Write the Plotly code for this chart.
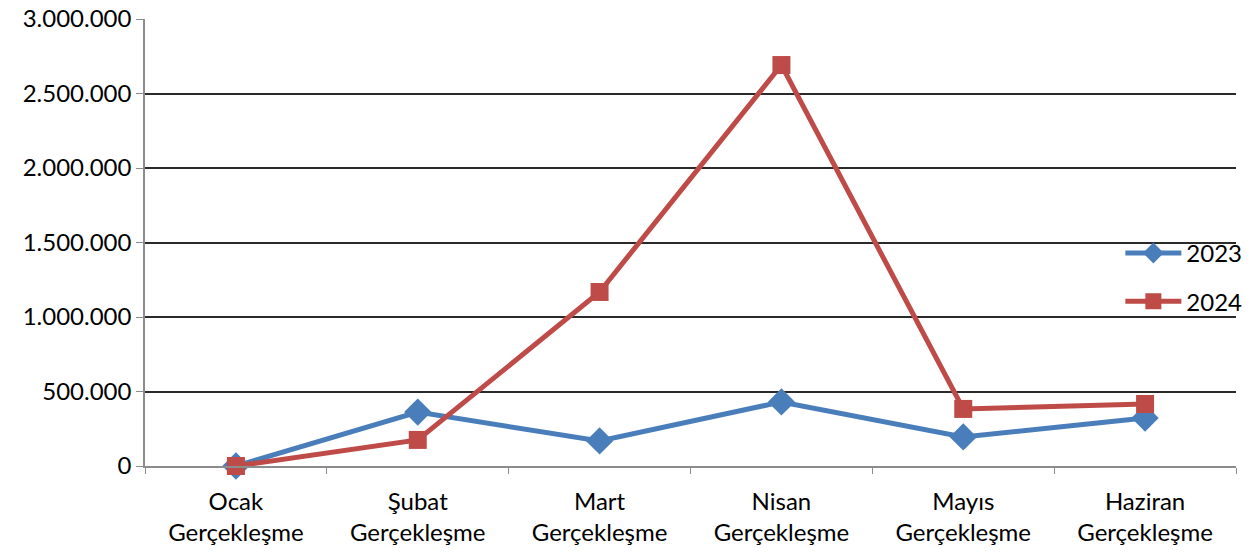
import plotly.graph_objects as go

categories = ["Ocak<br>Gerçekleşme", "Şubat<br>Gerçekleşme", "Mart<br>Gerçekleşme",
              "Nisan<br>Gerçekleşme", "Mayıs<br>Gerçekleşme", "Haziran<br>Gerçekleşme"]
values_2023 = [0, 362000, 168000, 430000, 195000, 322000]
values_2024 = [0, 175000, 1168000, 2691000, 383000, 416000]

FONT = "Lato, 'Open Sans', sans-serif"
FS = 24

fig = go.Figure()
fig.add_trace(go.Scatter(
    x=categories, y=values_2023, name="2023", mode="lines+markers",
    line=dict(color="#4A7EBB", width=5),
    marker=dict(symbol="diamond", size=21, color="#4A7EBB"),
    legendgroup="a", cliponaxis=False,
))
fig.add_trace(go.Scatter(
    x=categories, y=values_2024, name="2024", mode="lines+markers",
    line=dict(color="#BE4B48", width=5),
    marker=dict(symbol="square", size=18, color="#BE4B48"),
    legendgroup="b", cliponaxis=False,
))

fig.update_layout(
    width=1259, height=552,
    margin=dict(l=145, r=18, t=19, b=86),
    paper_bgcolor="white", plot_bgcolor="white",
    separators=",.",
    font=dict(family=FONT, size=FS, color="black"),
    showlegend=True,
    legend=dict(
        x=0.894, y=0.526, xanchor="left", yanchor="top",
        bgcolor="rgba(0,0,0,0)", borderwidth=0,
        font=dict(family=FONT, size=FS, color="black"),
        traceorder="grouped", tracegroupgap=14, itemwidth=56,
    ),
    xaxis=dict(
        type="category", range=[-0.5, 5.5], automargin=False,
        showline=True, linecolor="#8c8c8c", linewidth=1.5,
        ticks="outside", tickson="boundaries", ticklen=6, tickcolor="#8c8c8c",
        showgrid=False, ticklabelstandoff=13,
        tickfont=dict(family=FONT, size=FS, color="black"),
    ),
    yaxis=dict(
        range=[0, 3000000], dtick=500000, tickformat=",d", automargin=False,
        showline=True, linecolor="#8c8c8c", linewidth=1.5,
        ticks="outside", ticklen=7, tickcolor="#8c8c8c",
        showgrid=True, gridcolor="#2a2a2a", gridwidth=1.8,
        zeroline=False, ticklabeloverflow="allow",
        tickfont=dict(family=FONT, size=FS, color="black"),
    ),
)

fig.write_html("out.html", config={"displayModeBar": False})

# remove the default page margin so the figure sits at the window's top-left
with open("out.html", "r", encoding="utf-8") as f:
    html = f.read()
html = html.replace("<body>", "<body style=\"margin:0;overflow:hidden\">", 1)
with open("out.html", "w", encoding="utf-8") as f:
    f.write(html)
